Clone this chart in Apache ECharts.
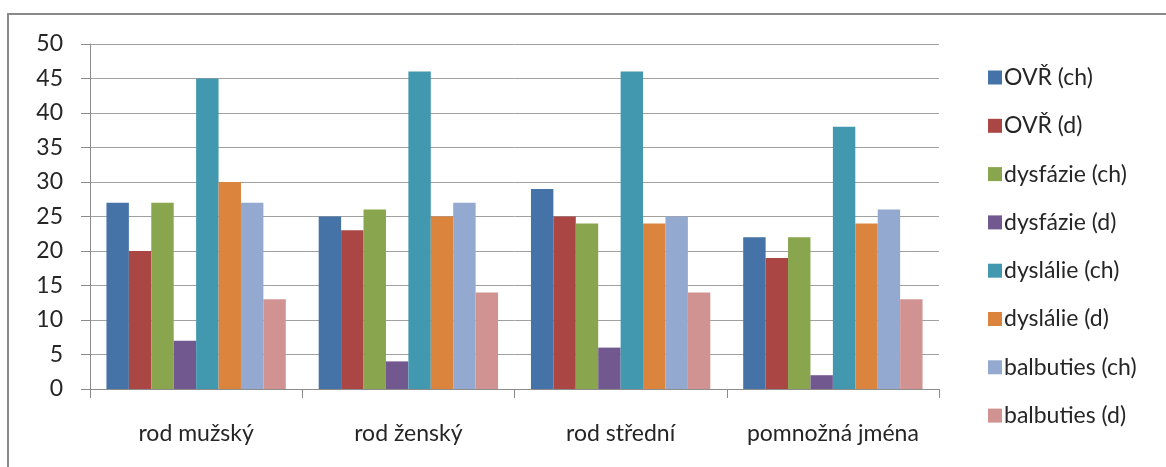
<!DOCTYPE html>
<html>
<head>
<meta charset="utf-8">
<script src="https://cdn.jsdelivr.net/npm/echarts@6/dist/echarts.min.js"></script>
<style>
  html, body { margin: 0; padding: 0; background: #fff; }
  #chart { width: 1166px; height: 467px; }
</style>
</head>
<body>
<div id="chart"></div>
<script>
// Categories (grammatical gender groups)
const categories = ['rod mužský', 'rod ženský', 'rod střední', 'pomnožná jména'];

// Series names and values per category
const seriesNames = [
  'OVŘ (ch)', 'OVŘ (d)', 'dysfázie (ch)', 'dysfázie (d)',
  'dyslálie (ch)', 'dyslálie (d)', 'balbuties (ch)', 'balbuties (d)'
];
const ovrCh        = [27, 25, 29, 22];
const ovrD         = [20, 23, 25, 19];
const dysfazieCh   = [27, 26, 24, 22];
const dysfazieD    = [7, 4, 6, 2];
const dyslalieCh   = [45, 46, 46, 38];
const dyslalieD    = [30, 25, 24, 24];
const balbutiesCh  = [27, 27, 25, 26];
const balbutiesD   = [13, 14, 14, 13];
const seriesValues = [ovrCh, ovrD, dysfazieCh, dysfazieD, dyslalieCh, dyslalieD, balbutiesCh, balbutiesD];

// Y axis range
const yMin = 0, yMax = 50, yStep = 5;

const palette = ['#4572A7', '#AA4643', '#89A54E', '#71588F', '#4198AF', '#DB843D', '#93A9CF', '#D19392'];
const FONT = 'Lato, "Open Sans", sans-serif';
const TEXT = '#262626';
const FS = 23;

const chart = echarts.init(document.getElementById('chart'), null, { renderer: 'canvas' });

chart.setOption({
  animation: false,
  backgroundColor: '#ffffff',
  color: palette,
  graphic: [{
    type: 'rect',
    shape: { x: 8, y: 14, width: 1400, height: 700 },
    style: { fill: 'none', stroke: '#8a8a8a', lineWidth: 2 },
    silent: true
  }],
  grid: { left: 90, right: 227, top: 44, bottom: 78, containLabel: false },
  legend: {
    orient: 'vertical',
    left: 983,
    top: 61,
    itemWidth: 14,
    itemHeight: 14,
    itemGap: 25.3,
    icon: 'rect',
    textStyle: { fontFamily: FONT, fontSize: FS, color: TEXT, padding: [0, 0, 0, -3] },
    data: seriesNames
  },
  xAxis: {
    type: 'category',
    data: categories,
    axisLine: { show: true, lineStyle: { color: '#8c8c8c', width: 1 } },
    axisTick: { show: true, inside: false, length: 9, alignWithLabel: false, lineStyle: { color: '#8c8c8c' } },
    axisLabel: { fontFamily: FONT, fontSize: FS, color: TEXT, margin: 33, interval: 0 },
    splitLine: { show: false }
  },
  yAxis: {
    type: 'value',
    min: yMin,
    max: yMax,
    interval: yStep,
    axisLine: { show: true, lineStyle: { color: '#8c8c8c', width: 1 } },
    axisTick: { show: true, inside: false, length: 9, lineStyle: { color: '#8c8c8c' } },
    axisLabel: { fontFamily: FONT, fontSize: FS, color: TEXT, margin: 27 },
    splitLine: { show: true, lineStyle: { color: '#a0a0a0', width: 1 } }
  },
  series: seriesNames.map((name, i) => ({
    name: name,
    type: 'bar',
    data: seriesValues[i],
    barGap: '0%',
    barCategoryGap: '15.5%',
    itemStyle: { color: palette[i] }
  }))
});
</script>
</body>
</html>
